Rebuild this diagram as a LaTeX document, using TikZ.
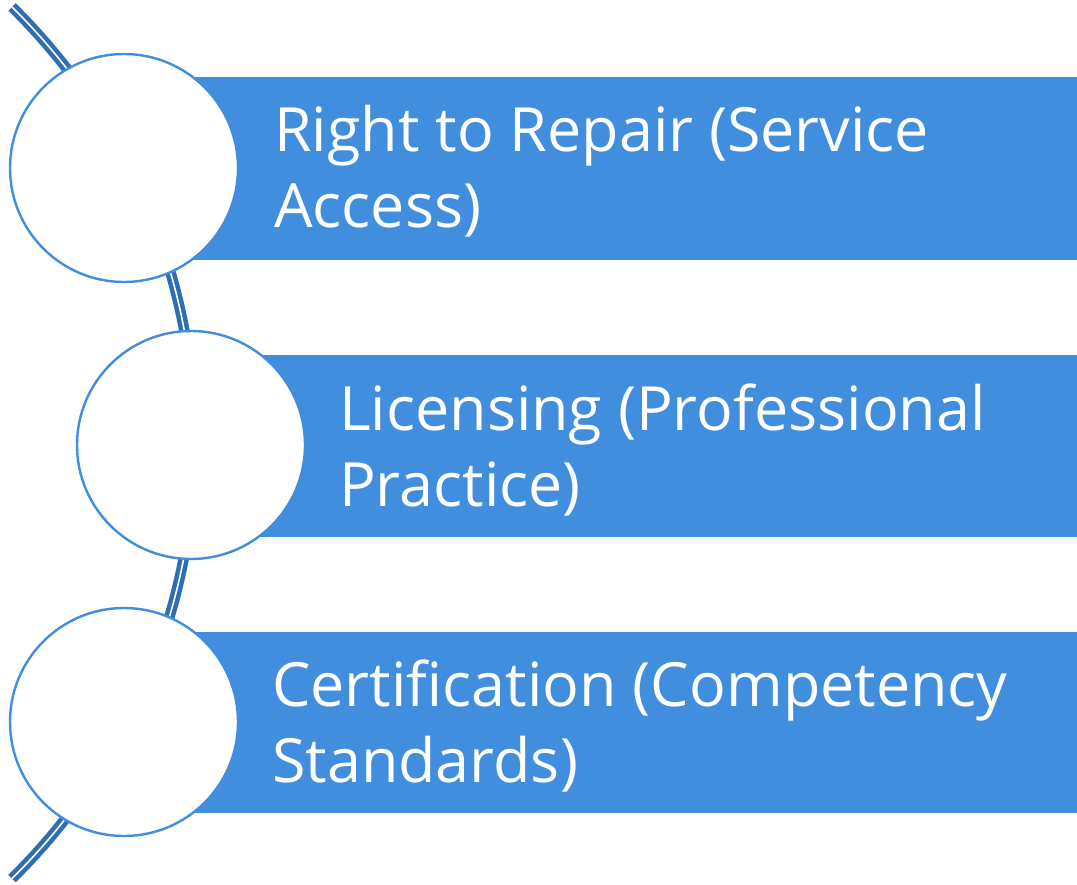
\documentclass[tikz,border=0pt]{standalone}
\usepackage{fontspec}
\setmainfont{Open Sans}
\usetikzlibrary{calc}
\definecolor{barblue}{RGB}{66,142,222}
\definecolor{arcblue}{RGB}{46,110,178}

\begin{document}
\begin{tikzpicture}[x=1pt,y=-1pt,
    bar/.style={fill=barblue,draw=none},
    disc/.style={circle,draw=barblue,line width=2.4pt,fill=white,minimum size=228pt,inner sep=0pt},
    label/.style={anchor=base west,inner sep=0pt,align=left,text=white,font=\fontsize{61}{76}\selectfont}]
      \useasboundingbox (0,0) rectangle (1077,885);
      % backbone arc
      \coordinate (arctop) at (12,7);
      \draw[arcblue,line width=4.5pt,double=white,double distance=1.6pt] (arctop) arc[start angle=-45.5,end angle=45.5,radius=611];
      % bars
      \fill[bar] (125,77) rectangle (1077,260);
      \fill[bar] (191,355) rectangle (1077,537);
      \fill[bar] (125,632) rectangle (1077,813);
      % circles
      \node[disc] (c1) at (124,168) {};
      \node[disc] (c2) at (191,445) {};
      \node[disc] (c3) at (124,722) {};
      % texts (base = last line)
      \node[label] (t1) at (274,228) {Right to Repair (Service\\Access)};
      \node[label] (t2) at (339,506) {Licensing (Professional\\Practice)};
      \node[label] (t3) at (272,782) {Certification (Competency\\Standards)};
    \end{tikzpicture}
\end{document}
